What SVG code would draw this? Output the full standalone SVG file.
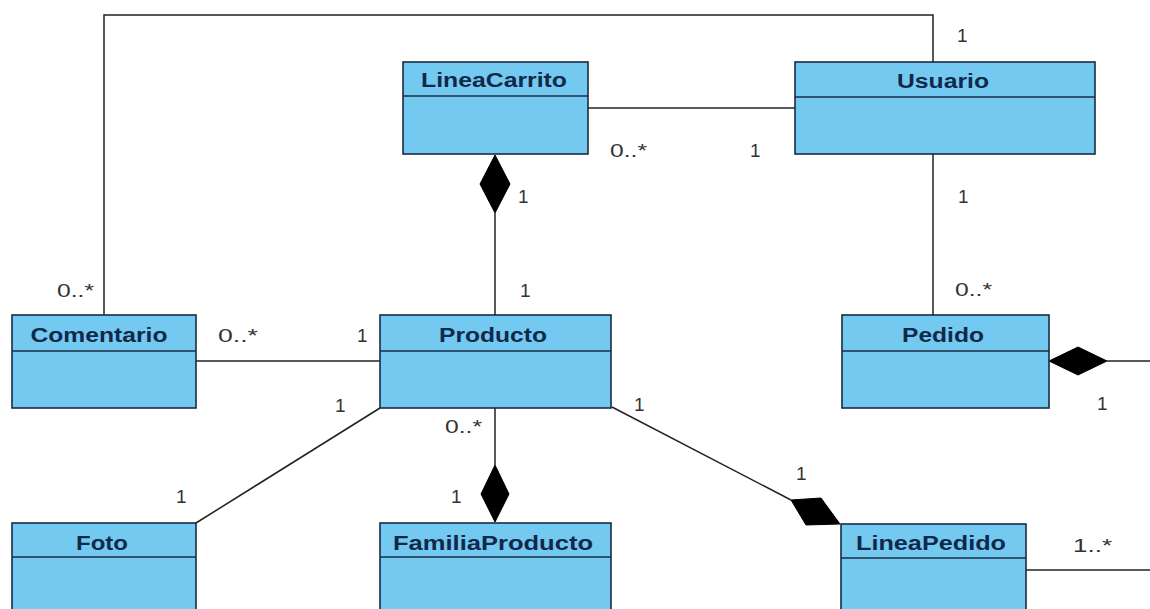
<svg xmlns="http://www.w3.org/2000/svg" width="1150" height="609" viewBox="0 0 1150 609">
<style>
.box{fill:#74c9f1;stroke:#1a2b42;stroke-width:1.6}
.sep{stroke:#1a2b42;stroke-width:1.6}
.name{font-family:"Liberation Sans",Arial,sans-serif;font-weight:bold;font-size:20px;fill:#10294a;text-anchor:middle}
.m{font-family:"Liberation Sans",Arial,sans-serif;font-size:19px;fill:#333}
.ln{fill:none;stroke:#222;stroke-width:1.5}
.dia{fill:#000;stroke:#000;stroke-width:1}
</style>
<rect width="1150" height="609" fill="#fff"/>
<g id="connectors">
<polyline class="ln" points="933,62 933,15 104,15 104,315"/>
<line class="ln" x1="588" y1="108" x2="795" y2="108"/>
<line class="ln" x1="933" y1="154" x2="933" y2="315"/>
<line class="ln" x1="495" y1="213" x2="495" y2="315"/>
<polygon class="dia" points="495,155 510,184 495,213 480,184"/>
<line class="ln" x1="196" y1="361" x2="380" y2="361"/>
<line class="ln" x1="196" y1="523" x2="380" y2="408"/>
<line class="ln" x1="495" y1="408" x2="495" y2="465"/>
<polygon class="dia" points="495,465 509,494 495,522 481,494"/>
<line class="ln" x1="612" y1="407" x2="791" y2="500"/>
<polygon class="dia" points="791,500 821,498 840,524 806,525"/>
<line class="ln" x1="1107" y1="361" x2="1150" y2="361"/>
<polygon class="dia" points="1049,361 1078,347 1107,361 1078,375"/>
<line class="ln" x1="1026" y1="570" x2="1150" y2="570"/>
<text class="m" x="957" y="42">1</text>
<text class="m" x="610" y="157" textLength="37" lengthAdjust="spacingAndGlyphs">0..*</text>
<text class="m" x="750" y="157">1</text>
<text class="m" x="518" y="203">1</text>
<text class="m" x="958" y="203">1</text>
<text class="m" x="57" y="297" textLength="37" lengthAdjust="spacingAndGlyphs">0..*</text>
<text class="m" x="520" y="297">1</text>
<text class="m" x="955" y="296" textLength="37" lengthAdjust="spacingAndGlyphs">0..*</text>
<text class="m" x="218" y="342" textLength="40" lengthAdjust="spacingAndGlyphs">0..*</text>
<text class="m" x="357" y="342">1</text>
<text class="m" x="335" y="412">1</text>
<text class="m" x="445" y="433" textLength="37" lengthAdjust="spacingAndGlyphs">0..*</text>
<text class="m" x="634" y="411">1</text>
<text class="m" x="1097" y="410">1</text>
<text class="m" x="796" y="480">1</text>
<text class="m" x="176" y="503">1</text>
<text class="m" x="451" y="503">1</text>
<text class="m" x="1073" y="552" textLength="39" lengthAdjust="spacingAndGlyphs">1..*</text>
</g>
<g id="LineaCarrito">
<rect class="box" x="403" y="62" width="185" height="92"/>
<line class="sep" x1="403" y1="96" x2="588" y2="96"/>
<text class="name" x="494" y="87" textLength="146" lengthAdjust="spacingAndGlyphs">LineaCarrito</text>
</g>
<g id="Usuario">
<rect class="box" x="795" y="62" width="300" height="92"/>
<line class="sep" x1="795" y1="97" x2="1095" y2="97"/>
<text class="name" x="943" y="88" textLength="92" lengthAdjust="spacingAndGlyphs">Usuario</text>
</g>
<g id="Comentario">
<rect class="box" x="12" y="315" width="184" height="93"/>
<line class="sep" x1="12" y1="351" x2="196" y2="351"/>
<text class="name" x="99" y="342" textLength="137" lengthAdjust="spacingAndGlyphs">Comentario</text>
</g>
<g id="Producto">
<rect class="box" x="380" y="315" width="231" height="93"/>
<line class="sep" x1="380" y1="351" x2="611" y2="351"/>
<text class="name" x="493" y="342" textLength="108" lengthAdjust="spacingAndGlyphs">Producto</text>
</g>
<g id="Pedido">
<rect class="box" x="842" y="315" width="207" height="93"/>
<line class="sep" x1="842" y1="351" x2="1049" y2="351"/>
<text class="name" x="943" y="342" textLength="82" lengthAdjust="spacingAndGlyphs">Pedido</text>
</g>
<g id="Foto">
<rect class="box" x="12" y="523" width="184" height="100"/>
<line class="sep" x1="12" y1="557" x2="196" y2="557"/>
<text class="name" x="102" y="550" textLength="52" lengthAdjust="spacingAndGlyphs">Foto</text>
</g>
<g id="FamiliaProducto">
<rect class="box" x="380" y="523" width="231" height="100"/>
<line class="sep" x1="380" y1="557" x2="611" y2="557"/>
<text class="name" x="493" y="550" textLength="200" lengthAdjust="spacingAndGlyphs">FamiliaProducto</text>
</g>
<g id="LineaPedido">
<rect class="box" x="841" y="524" width="185" height="100"/>
<line class="sep" x1="841" y1="558" x2="1026" y2="558"/>
<text class="name" x="931" y="550" textLength="150" lengthAdjust="spacingAndGlyphs">LineaPedido</text>
</g>
</svg>
